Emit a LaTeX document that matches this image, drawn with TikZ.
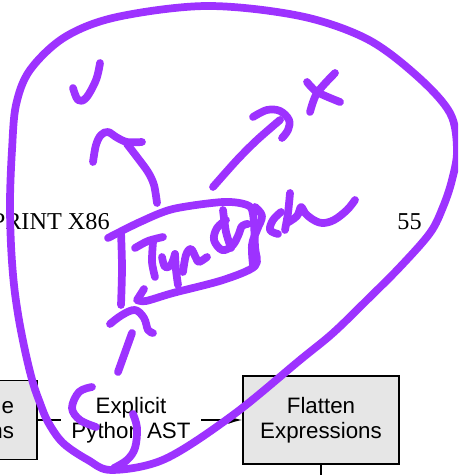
\documentclass[tikz,border=0pt]{standalone}
\usepackage{fontspec}
\setmainfont{Liberation Serif}
\setsansfont{Liberation Sans}
\usetikzlibrary{arrows.meta, positioning}

\definecolor{inkpurple}{RGB}{157,50,255}
\definecolor{passgray}{RGB}{230,230,230}

\tikzset
{%
ink/.style={draw=inkpurple, line width=4.4pt, line cap=round, line join=round},
pass/.style={draw, fill=passgray, line width=0.8pt, align=center, minimum width=3.12cm, font=\sffamily\fontsize{12.7}{14.2}\selectfont},
irlabel/.style={fill=white, align=center, inner xsep=0.2cm, inner ysep=1pt, font=\sffamily\fontsize{12.7}{14.2}\selectfont},
flow/.style={-{Latex[length=8pt, width=4.5pt]}, line width=0.8pt},
page/.style={font=\rmfamily\fontsize{13.8}{16}\selectfont, inner sep=0pt}
}

\begin{document}
\begin{tikzpicture}[x=0.02cm, y=-0.02cm]
		\useasboundingbox (0,0) rectangle (458,475);
		\clip (0,0) rectangle (458,475);

		%Page
		\node[page, anchor=base east] (head) at (110,230) {PRINT X86};
		\node[page, anchor=base east] (pageno) at (422,230) {55};

		%Passes
		\node[pass, minimum height=1.58cm, text width=2.2cm, align=right, inner xsep=0.46cm] (prev) at (-41,420) {e\\ns};
		\node[pass, minimum height=1.76cm] (flatten) at (321,420) {Flatten\\Expressions};
		\coordinate[below=0.3cm of flatten.south] (next);
		\draw[flow] (prev.east) -- node[irlabel, pos=0.456] (ast) {Explicit\\Python AST} (flatten.west);
		\draw[line width=0.8pt] (flatten.south) -- (next);

		%Ink: outline
		\draw[ink] plot[smooth cycle, tension=0.55] coordinates {(112,470) (88,460) (63,443) (48,422) (40,403) (33,383) (26,355) (19,320) (14,285) (11,245) (10,200) (12,150) (16,105) (30,70) (65,37) (117,17) (207,6) (300,16) (367,39) (417,76) (450,113) (457,150) (452,180) (443,207) (430,233) (400,267) (367,300) (333,333) (300,360) (233,415) (165,459)};

		%Ink: tick and cross
		\draw[ink] plot[smooth, tension=0.6] coordinates {(73,88) (78,100) (86,98) (96,80) (100,63)};
		\draw[ink] plot[smooth] coordinates {(307,82) (317,92) (340,102)};
		\draw[ink] plot[smooth] coordinates {(335,73) (317,93) (310,112)};

		%Ink: arrows
		\draw[ink] plot[smooth] coordinates {(157,203) (154,185) (148,172) (137,157) (127,144)};
		\draw[ink] plot[smooth, tension=0.6] coordinates {(93,162) (96,145) (101,135) (108,132) (116,137) (127,142) (142,142)};
		\draw[ink] plot[smooth] coordinates {(213,187) (237,160) (257,140) (280,120)};
		\draw[ink] plot[smooth, tension=0.6] coordinates {(253,117) (267,110) (280,111) (289,120) (288,130) (282,138)};

		%Ink: box
		\draw[ink] plot[smooth, tension=0.5] coordinates {(108,238) (140,222) (173,209) (223,202) (247,205) (253,214) (255,247) (255,266) (223,280) (173,293) (146,301) (137,300)} -- (144,289);
		\draw[ink] plot[smooth] coordinates {(121,232) (122,268) (121,305)};

		%Ink: word
		\draw[ink] plot[smooth] coordinates {(135,248) (148,241) (163,237)};
		\draw[ink] plot[smooth] coordinates {(153,242) (152,262) (155,277)};
		\draw[ink] plot[smooth, tension=0.6] coordinates {(162,257) (165,267) (171,265) (175,254)};
		\draw[ink] plot[smooth] coordinates {(175,254) (176,270) (178,285)};
		\draw[ink] plot[smooth, tension=0.6] coordinates {(183,272) (186,255) (191,249) (196,258) (199,262) (207,257)};
		\draw[ink] plot[smooth, tension=0.6] coordinates {(226,220) (217,228) (214,240) (222,250) (232,246) (238,236) (242,226) (248,224)};
		\draw[ink] plot[smooth] coordinates {(223,210) (226,232) (231,248)};
		\draw[ink] plot[smooth, tension=0.6] coordinates {(255,207) (262,216) (257,230) (252,245) (253,265)};
		\draw[ink] plot[smooth, tension=0.6] coordinates {(281,212) (273,220) (270,230) (278,234)};
		\draw[ink] plot[smooth] coordinates {(290,193) (288,213) (285,230)};
		\draw[ink] plot[smooth, tension=0.6] coordinates {(287,223) (297,216) (301,207) (305,213) (312,219) (322,223) (334,220) (347,210) (355,200)};

		%Ink: below the box
		\draw[ink] plot[smooth, tension=0.6] coordinates {(110,324) (122,315) (135,310) (144,318) (148,330) (153,333)};
		\draw[ink] (132,333) -- (118,372);
		\draw[ink] plot[smooth, tension=0.6] coordinates {(92,387) (79,392) (72,408) (80,420) (96,427)};
		\draw[ink] plot[smooth, tension=0.6] coordinates {(133,414) (137,428) (135,448) (127,460) (114,468)};
\end{tikzpicture}
\end{document}
